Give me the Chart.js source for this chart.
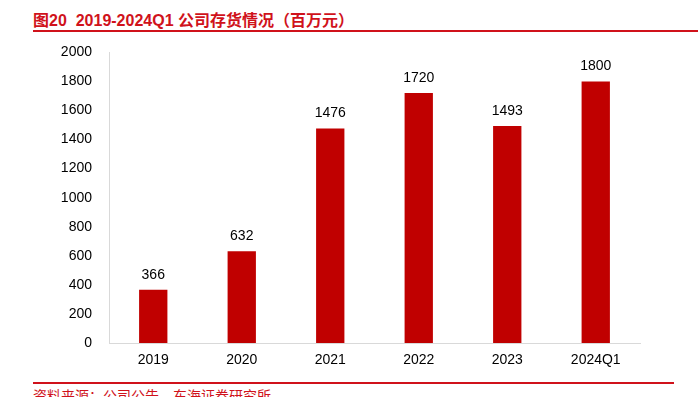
<!DOCTYPE html>
<html lang="zh">
<head>
<meta charset="UTF-8">
<script src="https://cdn.jsdelivr.net/npm/chart.js@4.4.1/dist/chart.umd.min.js"></script>
<style>
  * { margin: 0; padding: 0; box-sizing: border-box; }
  body { width: 698px; height: 397px; overflow: hidden; background: #fff; position: relative; font-family: "Liberation Sans", "Noto Sans CJK SC", sans-serif; }
  .title { position: absolute; left: 33px; top: 7px; font-size: 16px; font-weight: 700; color: #d0121b; font-family: "Liberation Sans", "Noto Sans CJK SC", sans-serif; white-space: nowrap; }
  .rule-top { position: absolute; left: 33px; right: 0; top: 30px; height: 2px; background: #d0121b; }
  .rule-bottom { position: absolute; left: 33px; width: 641px; top: 382px; height: 2px; background: #d0121b; }
  .source { position: absolute; left: 33px; top: 385px; font-size: 14px; color: #d0121b; white-space: nowrap; }
  .chart-box { position: absolute; left: 0; top: 27px; width: 698px; height: 353px; }
</style>
</head>
<body>
  <div class="title">图20&nbsp;&nbsp;2019-2024Q1 公司存货情况（百万元）</div>
  <div class="rule-top"></div>
  <div class="chart-box"><canvas id="c"></canvas></div>
  <div class="rule-bottom"></div>
  <div class="source">资料来源：公司公告，东海证券研究所</div>
<script>
const categories = ['2019', '2020', '2021', '2022', '2023', '2024Q1'];
const inventory = [366, 632, 1476, 1720, 1493, 1800];
const yTicks = [0, 200, 400, 600, 800, 1000, 1200, 1400, 1600, 1800, 2000];

const valueLabels = {
  id: 'valueLabels',
  afterDatasetsDraw(chart) {
    const ctx = chart.ctx;
    const meta = chart.getDatasetMeta(0);
    ctx.save();
    ctx.font = '14px "Liberation Sans", sans-serif';
    ctx.fillStyle = '#000';
    ctx.textAlign = 'center';
    ctx.textBaseline = 'middle';
    meta.data.forEach((bar, i) => {
      ctx.fillText(String(inventory[i]), bar.x, bar.y - 15);
    });
    ctx.restore();
  }
};

new Chart(document.getElementById('c'), {
  type: 'bar',
  data: {
    labels: categories,
    datasets: [{
      data: inventory,
      backgroundColor: '#c00000',
      barPercentage: 0.32,
      categoryPercentage: 1
    }]
  },
  options: {
    responsive: true,
    maintainAspectRatio: false,
    animation: false,
    layout: { padding: { top: 10, right: 58, left: 0, bottom: 0 } },
    plugins: { legend: { display: false }, tooltip: { enabled: false } },
    scales: {
      x: {
        grid: { display: false, drawTicks: false },
        border: { color: '#d9d9d9' },
        ticks: { color: '#000', font: { size: 14, family: '"Liberation Sans", sans-serif' }, padding: 9 },
        afterFit: s => { s.height = 37; }
      },
      y: {
        min: 0,
        max: 2000,
        afterBuildTicks: s => { s.ticks = yTicks.map(v => ({ value: v })); },
        grid: { display: false, drawTicks: false },
        border: { color: '#d9d9d9' },
        ticks: {
          color: '#000',
          font: { size: 14, family: '"Liberation Sans", sans-serif' },
          padding: 17,
          callback: v => String(v)
        },
        afterFit: s => { s.width = 109; }
      }
    }
  },
  plugins: [valueLabels]
});
</script>
</body>
</html>
